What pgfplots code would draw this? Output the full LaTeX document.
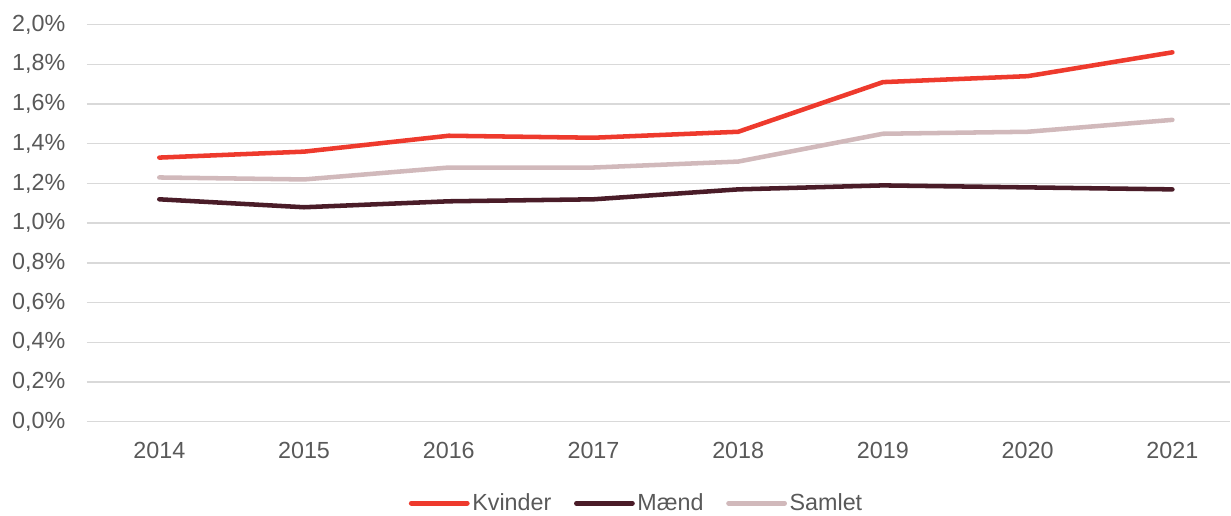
\documentclass[border=0pt]{standalone}
\usepackage{pgfplots}
\pgfplotsset{compat=1.18}
\usepackage{fontspec}
\setmainfont{Liberation Sans}
\definecolor{kv}{HTML}{EE3A2D}
\definecolor{md}{HTML}{4A1C28}
\definecolor{sa}{HTML}{D1B9BB}
\definecolor{gridc}{HTML}{D9D9D9}
\definecolor{txt}{HTML}{595959}
\begin{document}
\begin{tikzpicture}
\begin{axis}[
  name=ax,
  at={(0,0)}, anchor=south west,
  scale only axis,
  width=858pt, height=298.1pt,
  xmin=-0.5, xmax=7.4,
  ymin=0, ymax=2.0,
  ytick={0,0.2,0.4,0.6,0.8,1.0,1.2,1.4,1.6,1.8,2.0},
  xtick={0,1,2,3,4,5,6,7},
  xticklabels={2014,2015,2016,2017,2018,2019,2020,2021},
  ymajorgrids,
  grid style={gridc, line width=1.1pt},
  axis line style={draw=none},
  tick style={draw=none},
  /pgf/number format/assume math mode=true,
  yticklabel={\pgfmathprintnumber[fixed, fixed zerofill, precision=1, use comma]{\tick}\%},
  ticklabel style={font=\fontsize{17.5}{21}\selectfont, text=txt},
  yticklabel style={anchor=east, inner sep=0pt, xshift=-16pt},
  xticklabel style={anchor=north, inner sep=0pt, yshift=-15.5pt},
  legend style={at={(0.481,-0.205)}, anchor=center, draw=none, fill=none,
    legend columns=3, font=\fontsize{17.5}{21}\selectfont, text=txt,
    /tikz/every even column/.append style={column sep=15pt},
    inner sep=0pt},
  legend cell align=left,
  legend image code/.code={\draw[#1, line width=3.6pt] (0pt,0pt) -- (42pt,0pt);},
  every axis plot/.append style={line width=3.4pt, line cap=round, line join=round},
  clip=false,
]
\addplot[kv, mark=none] coordinates {(0,1.33) (1,1.36) (2,1.44) (3,1.43) (4,1.46) (5,1.71) (6,1.74) (7,1.86)};
\addlegendentry{Kvinder}
\addplot[md, mark=none] coordinates {(0,1.12) (1,1.08) (2,1.11) (3,1.12) (4,1.17) (5,1.19) (6,1.18) (7,1.17)};
\addlegendentry{Mænd}
\addplot[sa, mark=none] coordinates {(0,1.23) (1,1.22) (2,1.28) (3,1.28) (4,1.31) (5,1.45) (6,1.46) (7,1.52)};
\addlegendentry{Samlet}
\end{axis}
\path (ax.south west) ++(-65.25pt,-67.5pt) rectangle ++(923.25pt,384pt);
\end{tikzpicture}
\end{document}
